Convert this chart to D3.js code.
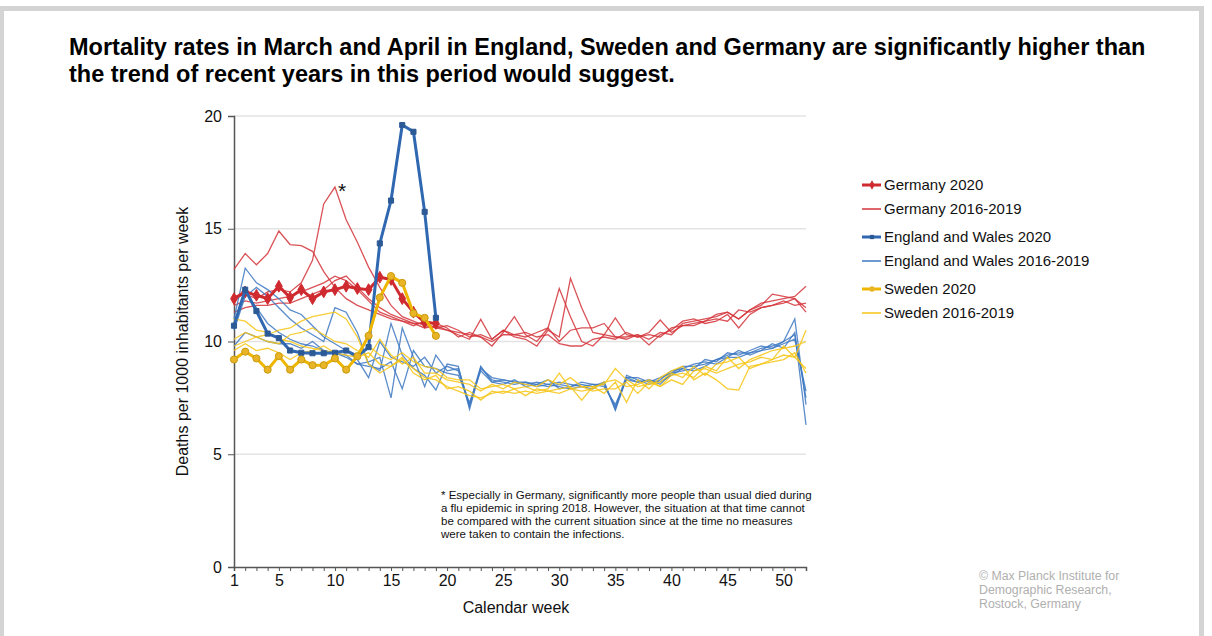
<!DOCTYPE html>
<html lang="en">
<head>
  <meta charset="UTF-8">
  <title>Mortality rates</title>
  <style>
    body { margin: 0; background: #fff; }
    text { font-family: "Liberation Sans", Arial, sans-serif; }
  </style>
</head>
<body>
  <script src="https://d3js.org/d3.v7.min.js"></script>
  <script>
    // weeks + tick labels
    const weeks = d3.range(1, 53)
    const xTickLabels = [1, 5, 10, 15, 20, 25, 30, 35, 40, 45, 50]
    const yTickLabels = [0, 5, 10, 15, 20]

    // 2020, weeks 1-19
    const germany2020 = [11.9, 12.2, 12.05, 11.9, 12.45, 11.95, 12.3, 11.9, 12.2, 12.3, 12.45, 12.35, 12.3, 12.85, 12.75, 11.9, 11.3, 10.85, 10.8]
    const england2020 = [10.7, 12.3, 11.35, 10.35, 10.15, 9.6, 9.5, 9.48, 9.48, 9.5, 9.6, 9.35, 9.75, 14.35, 16.25, 19.6, 19.3, 15.75, 11.05]
    const sweden2020 = [9.2, 9.55, 9.25, 8.75, 9.35, 8.75, 9.2, 8.95, 8.95, 9.25, 8.75, 9.35, 10.25, 11.95, 12.9, 12.6, 11.25, 11.05, 10.25]

    // 2016-2019, weeks 1-52
    const germanyA = [13.2, 13.9, 13.4, 13.9, 14.9, 14.3, 14.25, 14.0, 13.1, 12.4, 11.9, 11.6, 11.4, 11.2, 11.0, 10.9, 10.8,
      10.8, 10.6, 10.7, 10.5, 10.2, 10.3, 10.1, 10.5, 10.3, 10.2, 10.4, 10.6, 12.35, 11.1, 10.0, 9.8, 10.3, 10.2,
      10.2, 10.3, 10.1, 10.4, 10.3, 10.8, 10.9, 11.0, 11.1, 11.3, 11.0, 11.4, 11.6, 12.1, 12.0, 11.9, 11.5]
    const germanyB = [12.0, 12.1, 11.9, 12.2, 12.3, 12.2, 12.6, 13.6, 16.1, 16.85, 15.4, 14.4, 13.3, 12.4, 11.6, 11.1, 10.9,
      10.7, 10.6, 10.5, 10.3, 10.1, 10.98, 10.1, 10.5, 10.2, 10.1, 9.8, 10.5, 10.2, 12.8, 11.5, 10.4, 10.3, 11.05,
      10.3, 10.2, 10.4, 10.95, 10.4, 10.7, 10.8, 10.9, 11.2, 11.3, 11.0, 11.4, 11.7, 11.8, 11.9, 12.0, 12.45]
    const germanyC = [11.6, 11.8, 11.7, 11.8, 11.9, 12.0, 12.2, 12.4, 12.6, 12.9, 12.7, 12.3, 11.8, 11.3, 11.1, 10.9, 10.7,
      10.9, 10.8, 10.6, 10.2, 10.4, 10.2, 9.8, 10.4, 11.1, 10.3, 10.0, 10.6, 10.0, 10.5, 10.6, 10.6, 10.8, 10.2,
      10.1, 10.3, 9.85, 10.3, 10.5, 10.9, 11.0, 10.8, 10.9, 11.2, 10.6, 11.2, 11.5, 11.6, 11.7, 11.9, 11.3]
    const germanyD = [11.3, 11.5, 11.6, 11.6, 11.7, 11.7, 11.9, 12.1, 12.3, 12.7, 12.9, 12.4, 11.9, 11.5, 11.2, 11.0, 10.8,
      10.6, 10.7, 10.5, 10.4, 10.3, 10.2, 10.0, 10.3, 10.3, 10.4, 10.2, 10.3, 9.9, 9.8, 9.8, 10.1, 10.2, 10.1,
      10.4, 10.2, 10.3, 10.2, 10.6, 10.7, 10.7, 10.9, 11.0, 10.9, 11.4, 11.3, 11.5, 11.6, 11.8, 11.6, 11.7]

    const englandA = [11.0, 13.25, 12.6, 12.3, 11.9, 11.4, 11.2, 10.7, 10.2, 9.9, 9.6, 9.2, 8.4, 10.0, 9.3, 9.1, 8.9,
      9.3, 8.6, 8.9, 8.7, 7.1, 8.85, 8.3, 8.2, 8.1, 8.2, 8.1, 8.0, 8.1, 8.0, 8.1, 8.0, 8.2, 7.0,
      8.4, 8.2, 8.3, 8.1, 8.6, 8.9, 8.9, 9.0, 9.2, 9.4, 9.5, 9.5, 9.7, 9.8, 10.0, 10.3, 7.5]
    const englandB = [11.8, 12.2, 11.5, 10.8, 10.4, 10.1, 9.9, 9.8, 9.6, 9.5, 9.4, 9.0, 9.1, 9.3, 7.5, 10.6, 9.3,
      8.0, 9.4, 8.7, 8.8, 7.2, 8.9, 8.2, 8.3, 8.2, 8.1, 8.2, 8.1, 8.0, 7.9, 8.0, 8.1, 8.1, 7.1,
      8.5, 8.3, 8.1, 8.3, 8.7, 8.8, 9.0, 9.1, 9.0, 9.3, 9.6, 9.4, 9.6, 9.9, 9.7, 10.4, 6.3]
    const englandC = [10.5, 12.0, 12.4, 12.0, 11.5, 11.0, 10.6, 10.3, 10.0, 11.5, 11.3, 10.4, 9.0, 8.7, 10.8, 9.4, 8.8,
      8.5, 7.85, 9.0, 8.9, 7.0, 8.8, 8.4, 8.3, 8.2, 8.2, 8.0, 8.1, 8.2, 8.1, 8.0, 7.9, 8.2, 6.95,
      8.4, 8.4, 8.2, 8.4, 8.6, 8.7, 8.8, 9.2, 9.1, 9.5, 9.4, 9.6, 9.8, 9.7, 10.0, 11.0, 7.2]
    const englandD = [9.8, 10.4, 10.2, 10.0, 9.9, 9.9, 9.7, 10.0, 9.6, 9.5, 9.3, 9.0, 8.9, 8.8, 9.1, 7.9, 9.6,
      8.9, 8.8, 8.6, 8.5, 7.3, 8.7, 8.2, 8.1, 8.3, 8.0, 8.1, 8.3, 7.9, 8.0, 8.2, 8.1, 8.0, 7.2,
      8.3, 8.2, 8.3, 8.2, 8.5, 8.8, 8.7, 8.9, 9.2, 9.3, 9.3, 9.5, 9.6, 9.7, 9.9, 10.1, 7.8]

    const swedenA = [11.0, 10.9, 10.5, 10.4, 10.1, 10.0, 9.8, 9.7, 9.6, 9.5, 9.4, 9.3, 9.8, 9.4, 9.2, 9.5, 9.1,
      8.9, 8.8, 8.4, 8.3, 8.3, 7.9, 8.0, 8.1, 7.9, 8.0, 7.8, 7.9, 8.6, 7.9, 8.0, 8.0, 8.1, 8.8,
      8.3, 8.0, 8.1, 8.2, 8.6, 8.4, 8.9, 8.5, 9.0, 9.1, 9.3, 8.8, 9.0, 9.2, 9.8, 9.3, 10.5]
    const swedenB = [9.8, 10.0, 10.2, 10.3, 10.5, 10.6, 10.9, 11.1, 11.2, 11.3, 11.0, 10.2, 9.0, 8.6, 8.9, 9.2, 8.8,
      8.4, 8.3, 8.0, 7.8, 7.6, 7.5, 7.7, 7.8, 7.7, 7.8, 7.7, 7.8, 7.9, 8.0, 7.4, 8.0, 7.7, 8.2,
      7.3, 8.3, 7.9, 8.4, 8.7, 8.9, 8.3, 8.6, 8.3, 7.9, 7.85, 8.9, 9.0, 9.1, 9.2, 9.5, 8.6]
    const swedenC = [10.1, 10.4, 10.2, 10.0, 9.9, 10.3, 10.4, 10.6, 10.3, 10.0, 9.9, 9.6, 9.3, 10.1, 9.4, 9.0, 9.3,
      8.6, 8.6, 8.3, 8.2, 8.1, 7.8, 8.1, 7.9, 8.2, 8.1, 8.0, 8.3, 8.1, 8.4, 8.0, 7.8, 7.9, 7.9,
      8.2, 7.7, 8.2, 8.0, 8.5, 8.6, 8.4, 8.9, 8.7, 9.3, 8.8, 9.2, 9.4, 9.6, 9.7, 9.8, 10.0]
    const swedenD = [9.6, 9.9, 9.6, 9.7, 9.5, 9.2, 9.5, 9.6, 9.8, 9.5, 9.6, 9.3, 9.5, 9.0, 8.9, 9.3, 8.6,
      8.3, 8.5, 7.9, 8.0, 7.8, 7.4, 7.8, 7.7, 7.9, 7.6, 7.9, 7.8, 7.7, 7.9, 7.8, 7.9, 8.2, 8.3,
      8.0, 8.1, 8.3, 8.0, 8.3, 8.1, 8.7, 8.8, 8.6, 8.8, 9.0, 9.1, 9.3, 9.2, 9.4, 9.3, 8.8]

    const legendLabels = ['Germany 2020', 'Germany 2016-2019', 'England and Wales 2020',
      'England and Wales 2016-2019', 'Sweden 2020', 'Sweden 2016-2019']

    const red = '#d4343a', blue = '#3d78c2', yellow = '#f6c413'
    const redDark = '#cf2a30', blueDark = '#2f68b0', yellowDark = '#efb600'

    const W = 1212, H = 636
    const svg = d3.select('body').append('svg')
      .attr('width', W).attr('height', H)

    // grey frame
    svg.append('rect').attr('x', 0).attr('y', 6).attr('width', 1204).attr('height', H - 6).attr('fill', '#d4d4d4')
    svg.append('rect').attr('x', 4).attr('y', 11).attr('width', 1195).attr('height', H - 11).attr('fill', '#fff')

    // title
    const title = svg.append('text')
      .attr('font-size', 23.5).attr('font-weight', 'bold').attr('fill', '#000')
    title.append('tspan').attr('x', 69).attr('y', 55)
      .text('Mortality rates in March and April in England, Sweden and Germany are significantly higher than')
    title.append('tspan').attr('x', 69).attr('y', 82)
      .text('the trend of recent years in this period would suggest.')

    const x = d3.scaleLinear().domain([1, 52]).range([234, 806])
    const y = d3.scaleLinear().domain([0, 20]).range([567, 116])

    // gridlines
    svg.append('g')
      .selectAll('line')
      .data(yTickLabels.filter(d => d > 0))
      .enter()
      .append('line')
      .attr('x1', x(1)).attr('x2', x(52))
      .attr('y1', d => y(d)).attr('y2', d => y(d))
      .attr('stroke', '#e3e3e3').attr('stroke-width', 1.5)

    // y axis
    const yAxis = d3.axisLeft(y).tickValues(yTickLabels).tickSize(6).tickPadding(6)
    const gy = svg.append('g').attr('transform', `translate(${x(1)},0)`).call(yAxis)
    gy.select('.domain').attr('stroke', '#555').attr('stroke-width', 1.5)
    gy.selectAll('.tick line').attr('stroke', '#555')
    gy.selectAll('text').attr('font-size', 16).attr('fill', '#111')
      .attr('font-family', '"Liberation Sans", Arial, sans-serif')

    // x axis: small tick every week, labels at chosen weeks
    const xAxis = d3.axisBottom(x).tickValues(weeks).tickSize(4).tickPadding(4)
      .tickFormat(d => xTickLabels.includes(d) ? d : '')
    const gx = svg.append('g').attr('transform', `translate(0,${y(0)})`).call(xAxis)
    gx.select('.domain').attr('stroke', '#555').attr('stroke-width', 1.5)
    gx.selectAll('.tick line').attr('stroke', '#555')
    gx.selectAll('text').attr('font-size', 16).attr('fill', '#111')
      .attr('font-family', '"Liberation Sans", Arial, sans-serif')

    // axis titles
    svg.append('text')
      .attr('transform', `translate(188,${(y(0) + y(20)) / 2}) rotate(-90)`)
      .attr('text-anchor', 'middle').attr('font-size', 16).attr('fill', '#111')
      .text('Deaths per 1000 inhabitants per week')
    svg.append('text').attr('x', 516).attr('y', 613)
      .attr('text-anchor', 'middle').attr('font-size', 16).attr('fill', '#111')
      .text('Calendar week')

    const line = d3.line()
      .x((d, i) => x(weeks[i]))
      .y(d => y(d))

    // past years, thin
    const thin = [
      { data: [germanyA, germanyB, germanyC, germanyD], color: red },
      { data: [englandA, englandB, englandC, englandD], color: blue },
      { data: [swedenA, swedenB, swedenC, swedenD], color: yellow },
    ]
    thin.forEach(s => {
      svg.append('g')
        .selectAll('path')
        .data(s.data)
        .enter()
        .append('path')
        .attr('d', line)
        .attr('fill', 'none')
        .attr('stroke', s.color)
        .attr('stroke-width', 1.3)
        .attr('stroke-opacity', 0.85)
    })

    // 2020, thick with markers
    const thick = [
      { data: germany2020, color: redDark, symbol: d3.symbolDiamond, size: 40, fill: redDark, stroke: redDark },
      { data: england2020, color: blueDark, symbol: d3.symbolSquare, size: 26, fill: '#2c5a96', stroke: '#2c5a96' },
      { data: sweden2020, color: yellowDark, symbol: d3.symbolCircle, size: 40, fill: '#e9b526', stroke: '#c89a10' },
    ]
    thick.forEach(s => {
      const g = svg.append('g')
      g.append('path')
        .datum(s.data)
        .attr('d', line)
        .attr('fill', 'none')
        .attr('stroke', s.color)
        .attr('stroke-width', 3)
      g.selectAll('path.pt')
        .data(s.data)
        .enter()
        .append('path')
        .attr('class', 'pt')
        .attr('transform', (d, i) => `translate(${x(weeks[i])},${y(d)})`)
        .attr('d', d3.symbol().type(s.symbol).size(s.size))
        .attr('fill', s.fill)
        .attr('stroke', s.stroke)
        .attr('stroke-width', 1)
    })

    // asterisk at the 2018 flu peak
    svg.append('text')
      .attr('x', x(10) + 3).attr('y', y(d3.max(germanyB)) + 11)
      .attr('font-size', 21).attr('fill', '#111')
      .text('*')

    // legend
    const legendY = [185, 209, 237, 261, 289, 313]
    const legendStyle = [
      { color: redDark, width: 3, symbol: d3.symbolDiamond, size: 26, fill: redDark },
      { color: red, width: 1.5 },
      { color: blueDark, width: 3, symbol: d3.symbolSquare, size: 18, fill: '#2c5a96' },
      { color: blue, width: 1.5 },
      { color: yellowDark, width: 3, symbol: d3.symbolCircle, size: 24, fill: '#e9b526' },
      { color: yellow, width: 1.5 },
    ]
    const legend = svg.append('g')
      .selectAll('g')
      .data(legendLabels)
      .enter()
      .append('g')
      .attr('transform', (d, i) => `translate(862,${legendY[i]})`)
    legend.append('line')
      .attr('x1', 0).attr('x2', 19)
      .attr('stroke', (d, i) => legendStyle[i].color)
      .attr('stroke-width', (d, i) => legendStyle[i].width)
    legend.filter((d, i) => legendStyle[i].symbol)
      .append('path')
      .attr('transform', 'translate(10,0)')
      .attr('d', d => d3.symbol().type(legendStyle[legendLabels.indexOf(d)].symbol).size(legendStyle[legendLabels.indexOf(d)].size)())
      .attr('fill', d => legendStyle[legendLabels.indexOf(d)].fill)
    legend.append('text')
      .attr('x', 22).attr('y', 5)
      .attr('font-size', 15).attr('fill', '#111')
      .text(d => d)

    // footnote
    const note = [
      '* Especially in Germany, significantly more people than usual died during',
      'a flu epidemic in spring 2018. However, the situation at that time cannot',
      'be compared with the current situation since at the time no measures',
      'were taken to contain the infections.',
    ]
    svg.append('g')
      .selectAll('text')
      .data(note)
      .enter()
      .append('text')
      .attr('x', 441).attr('y', (d, i) => 499 + i * 13)
      .attr('font-size', 11.5).attr('fill', '#111')
      .text(d => d)

    // credit
    const credit = ['© Max Planck Institute for', 'Demographic Research,', 'Rostock, Germany']
    svg.append('g')
      .selectAll('text')
      .data(credit)
      .enter()
      .append('text')
      .attr('x', 979).attr('y', (d, i) => 580 + i * 13.8)
      .attr('font-size', 12.3).attr('fill', '#b0b0b0')
      .text(d => d)
  </script>
</body>
</html>
